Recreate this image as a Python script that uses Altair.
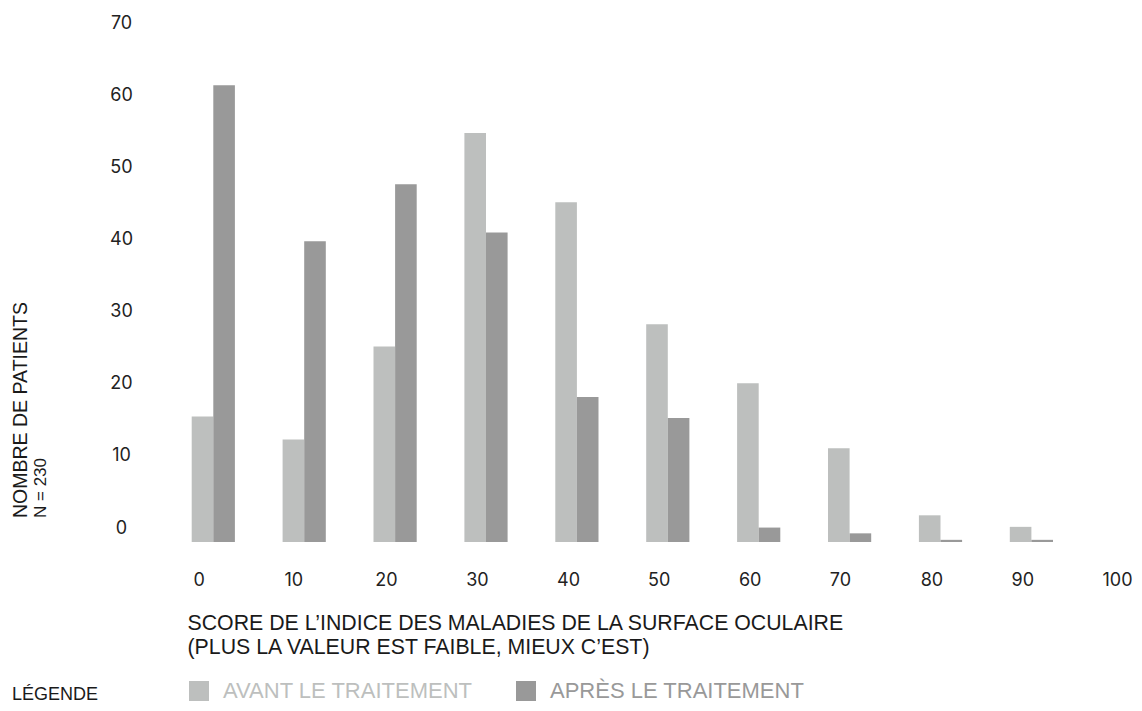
import altair as alt
import pandas as pd

# ---- data ----
scores = [0, 10, 20, 30, 40, 50, 60, 70, 80, 90]
avant = [17.4, 14.2, 27.1, 56.7, 47.1, 30.2, 22.0, 13.0, 3.7, 2.1]
apres = [63.3, 41.7, 49.6, 42.9, 20.1, 17.2, 2.0, 1.2, 0.3, 0.3]
groups = ["AVANT LE TRAITEMENT", "APRÈS LE TRAITEMENT"]
colors = ["#bdbfbe", "#999999"]
x_ticks = list(range(0, 101, 10))
y_ticks = list(range(0, 71, 10))
y_title = ["NOMBRE DE PATIENTS", "N = 230"]
x_title = ["SCORE DE L’INDICE DES MALADIES DE LA SURFACE OCULAIRE",
           "(PLUS LA VALEUR EST FAIBLE, MIEUX C’EST)"]
legend_title = ["LÉGENDE"]

df_av = pd.DataFrame({"score": scores, "n": avant, "groupe": groups[0]})
df_ap = pd.DataFrame({"score": scores, "n": apres, "groupe": groups[1]})

TICK_FONT = "Inter"
TEXT_FONT = "Liberation Sans"

W, H = 919, 505
PAD_L, PAD_T = 179.5, 29

xscale = alt.Scale(domain=[0, 100], nice=False, zero=False)
yscale = alt.Scale(domain=[0, 70], nice=False)

color = alt.Color(
    "groupe:N",
    scale=alt.Scale(domain=groups, range=colors),
    legend=alt.Legend(
        title=None,
        orient="none",
        legendX=0.5,
        legendY=643,
        direction="horizontal",
        symbolType="square",
        symbolSize=400,
        symbolStrokeWidth=0,
        symbolOpacity=1,
        labelFont=TEXT_FONT,
        labelFontSize=22,
        labelLimit=0,
        labelOffset=13,
        labelColor=alt.ExprRef("datum.label == 'AVANT LE TRAITEMENT' ? '#bdbfbe' : '#999999'"),
        columnPadding=42,
        padding=0,
    ),
)

x_enc = alt.X(
    "score:Q",
    scale=xscale,
    axis=alt.Axis(
        values=x_ticks,
        grid=False,
        domain=False,
        ticks=False,
        tickSize=0,
        labelPadding=38,
        labelAlign="left",
        labelOffset=0.5,
        labelBaseline="middle",
        labelFont=TICK_FONT,
        labelFontSize=18,
        labelColor="#222222",
        labelFlush=False,
        title=x_title,
        titleFont=TEXT_FONT,
        titleFontSize=21.3,
        titleFontWeight="normal",
        titleColor="#1a1a1a",
        titleAnchor="start",
        titleAlign="left",
        titleBaseline="alphabetic",
        titleX=-0.5,
        titleY=87,
        titleLineHeight=24,
    ),
)

y_enc = alt.Y(
    "n:Q",
    scale=yscale,
    axis=alt.Axis(
        values=y_ticks,
        grid=False,
        domain=False,
        ticks=False,
        tickSize=0,
        labelPadding=66.5,
        labelAlign="center",
        labelBaseline="middle",
        labelOffset=-14,
        labelFont=TICK_FONT,
        labelFontSize=18,
        labelColor="#222222",
        title=None,
    ),
)

bars_av = alt.Chart(df_av).mark_bar(width=21.6, xOffset=10).encode(
    x=x_enc, y=y_enc, color=color
)
bars_ap = alt.Chart(df_ap).mark_bar(width=21.6, xOffset=31.6).encode(
    x=x_enc, y=y_enc, color=color
)

ytitle1 = alt.Chart(pd.DataFrame({"t": [y_title[0]]})).mark_text(
    angle=270, align="left", baseline="alphabetic", font=TEXT_FONT,
    fontSize=19.5, color="#1a1a1a"
).encode(x=alt.value(-160.2), y=alt.value(481), text="t:N")

ytitle2 = alt.Chart(pd.DataFrame({"t": [y_title[1]]})).mark_text(
    angle=270, align="left", baseline="alphabetic", font=TEXT_FONT,
    fontSize=17, color="#1a1a1a"
).encode(x=alt.value(-141.5), y=alt.value(481), text="t:N")

leg_title = alt.Chart(pd.DataFrame({"t": legend_title})).mark_text(
    align="left", baseline="alphabetic", font=TEXT_FONT,
    fontSize=18, color="#1a1a1a"
).encode(x=alt.value(-175.5), y=alt.value(663), text="t:N")

chart = alt.layer(bars_av, bars_ap, ytitle1, ytitle2, leg_title).properties(
    width=W,
    height=H,
    autosize=alt.AutoSizeParams(type="none"),
    padding={"left": PAD_L, "top": PAD_T, "right": 1126 - PAD_L - W, "bottom": 166},
).configure(background="white").configure_view(stroke=None)

chart.save("out.html", embed_options={"renderer": "svg", "actions": False})
